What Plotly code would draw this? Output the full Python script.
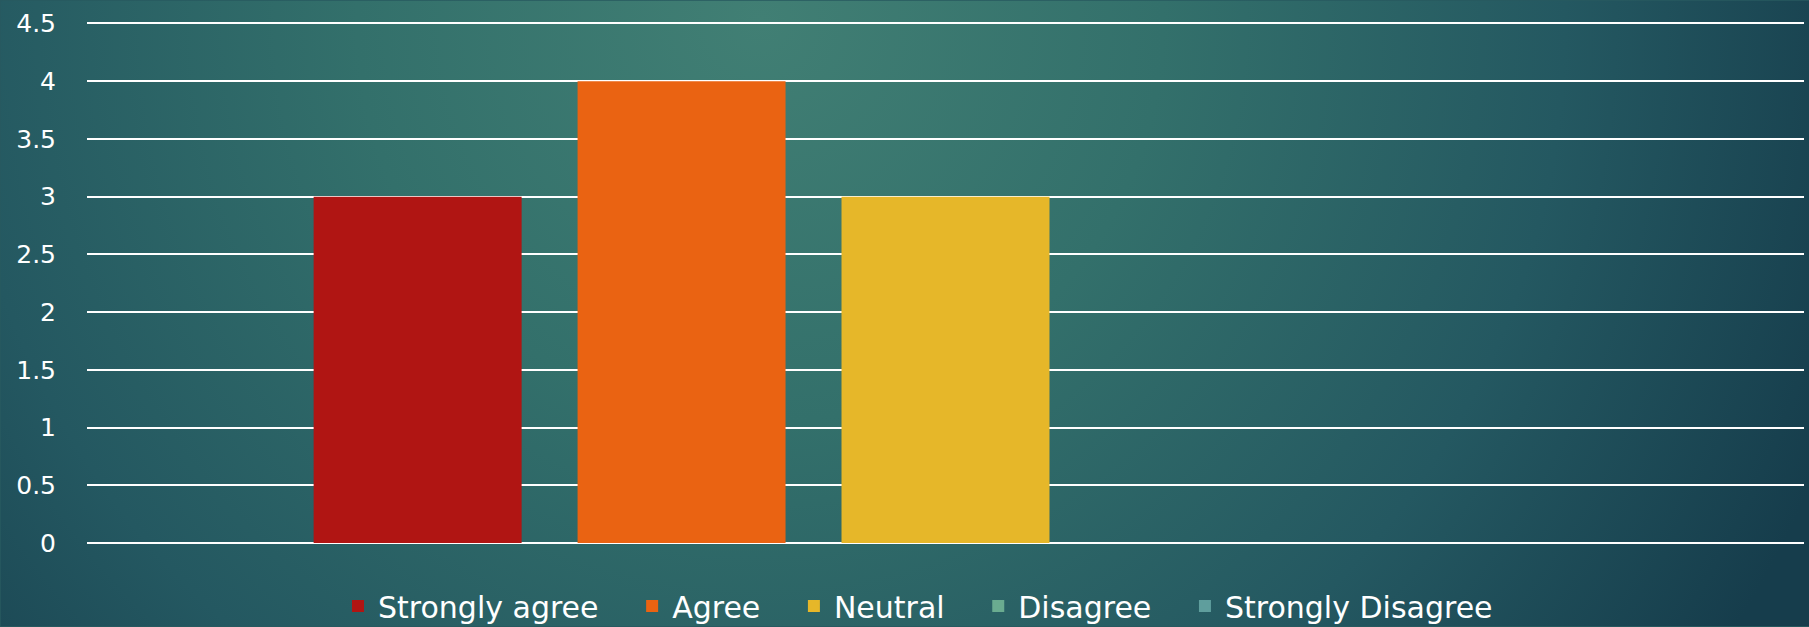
import base64
import plotly.graph_objects as go

# ---- data ----
category = ["Responses"]
series_names = ["Strongly agree", "Agree", "Neutral", "Disagree", "Strongly Disagree"]
series_values = [3, 4, 3, 0, 0]
series_colors = ["#B01513", "#EA6312", "#E6B729", "#6AAC90", "#5F9E9D"]
y_tick_vals = [0, 0.5, 1, 1.5, 2, 2.5, 3, 3.5, 4, 4.5]
y_tick_text = ["0", "0.5", "1", "1.5", "2", "2.5", "3", "3.5", "4", "4.5"]

W, H = 1809, 627
Y_TOP = 4.53               # a hair above 4.5 so the top gridline is drawn
GRID_TOP_PX, ZERO_PX = 23, 543.5
scale = (ZERO_PX - GRID_TOP_PX) / 4.5
ML, MR = 86.5, 5
MT = GRID_TOP_PX - (Y_TOP - 4.5) * scale
MB = H - ZERO_PX
PAD = "\u00a0\u00a0\u00a0"  # extra spacing between legend entries

fig = go.Figure()
n = len(series_names)
for i, (name, val, col) in enumerate(zip(series_names, series_values, series_colors)):
    fig.add_trace(go.Bar(
        x=category, y=[val], name=name + (PAD if i < n - 1 else ""),
        marker=dict(color=col, line=dict(width=0)),
    ))

# background radial gradient (decoration)
svg = f'''<svg xmlns="http://www.w3.org/2000/svg" width="{W}" height="{H}" viewBox="0 0 {W} {H}">
<defs><radialGradient id="g" gradientUnits="userSpaceOnUse" cx="760" cy="20" r="1150">
<stop offset="0" stop-color="#417F74"/>
<stop offset="0.35" stop-color="#33706B"/>
<stop offset="0.7" stop-color="#245861"/>
<stop offset="1" stop-color="#163D4C"/>
</radialGradient></defs>
<rect width="{W}" height="{H}" fill="url(#g)"/></svg>'''
src = "data:image/svg+xml;base64," + base64.b64encode(svg.encode()).decode()

pw = W - ML - MR
ph = H - MT - MB
fig.add_layout_image(dict(
    source=src, xref="paper", yref="paper",
    x=-ML / pw, y=1 + MT / ph, sizex=W / pw, sizey=H / ph,
    xanchor="left", yanchor="top", sizing="stretch", layer="below",
))

fig.update_layout(
    width=W, height=H,
    margin=dict(l=ML, r=MR, t=MT, b=MB, pad=0, autoexpand=False),
    paper_bgcolor="#27595F",
    plot_bgcolor="rgba(0,0,0,0)",
    barmode="group",
    bargap=0.2314,
    bargroupgap=0.212,
    font=dict(family="DejaVu Sans", color="white"),
    showlegend=True,
    legend=dict(
        orientation="h", xref="container", yref="container",
        x=918 / W, xanchor="center", y=1 - 606 / H, yanchor="middle",
        font=dict(size=30, color="white", family="DejaVu Sans"),
        bgcolor="rgba(0,0,0,0)", traceorder="normal",
    ),
    xaxis=dict(showticklabels=False, showgrid=False, zeroline=False, showline=False,
               ticks=""),
    yaxis=dict(range=[0, Y_TOP], tickvals=y_tick_vals, ticktext=y_tick_text,
               showgrid=True, gridcolor="white", gridwidth=2,
               zeroline=True, zerolinecolor="white", zerolinewidth=2,
               showline=False, ticks="", ticklabelstandoff=30,
               tickfont=dict(size=25, color="white", family="DejaVu Sans")),
)

fig.write_html("out.html", config={"displayModeBar": False},
               post_script="document.body.style.margin='0';document.body.style.overflow='hidden';")
